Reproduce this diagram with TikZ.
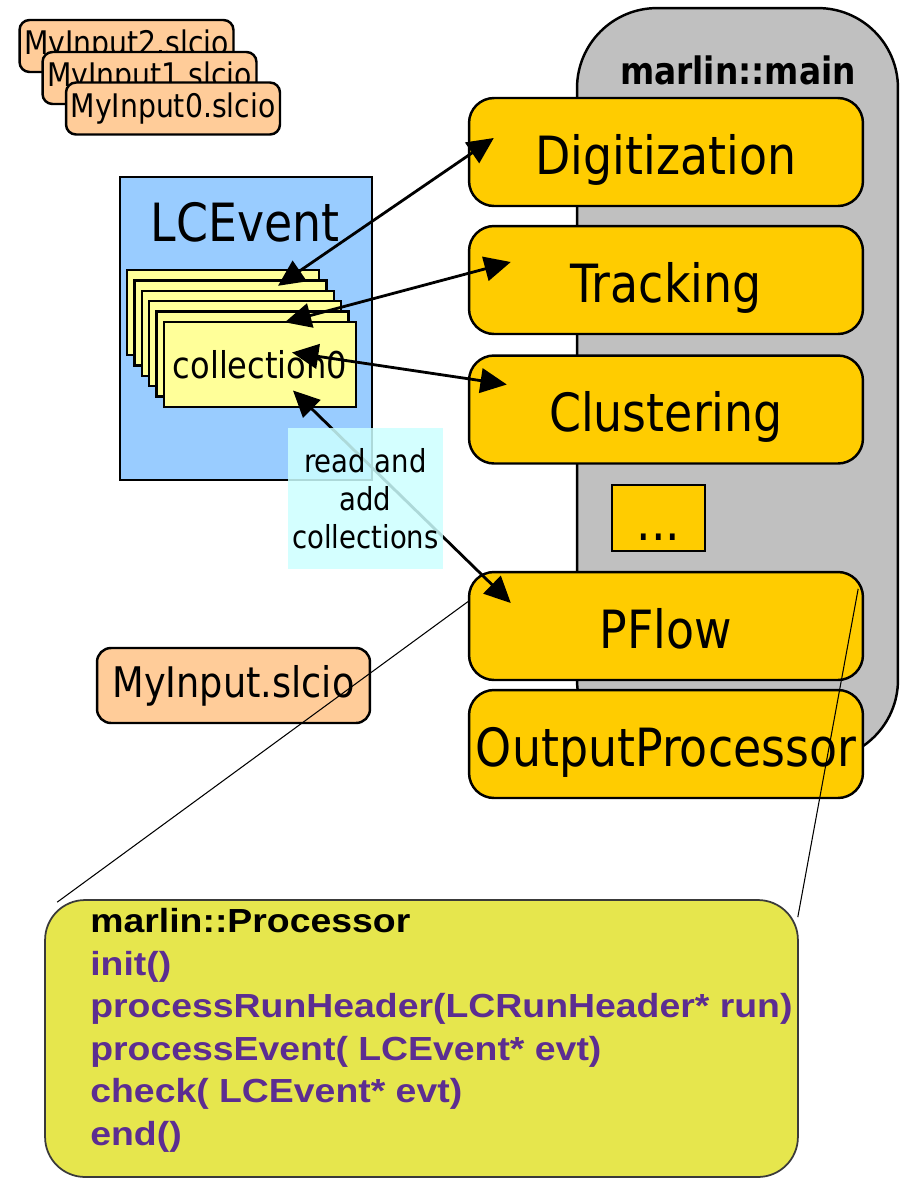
\documentclass[tikz,border=0pt]{standalone}
\usepackage{fontspec}
\setmainfont{DejaVu Sans}[FakeStretch=0.87]
\newfontfamily\panelfamily{Liberation Sans}[FakeStretch=1.12]
\usetikzlibrary{arrows.meta}
\definecolor{procgold}{HTML}{FFCC00}
\definecolor{maingray}{HTML}{C0C0C0}
\definecolor{eventblue}{HTML}{99CCFF}
\definecolor{collyellow}{HTML}{FFFF99}
\definecolor{filebeige}{HTML}{FFCC99}
\definecolor{notecyan}{HTML}{CCFFFF}
\definecolor{panelyellow}{HTML}{E6E64D}
\definecolor{panelgray}{HTML}{3A3A3A}
\definecolor{methpurple}{HTML}{5C2D91}
\newcommand\namefont{\fontsize{30}{36}\selectfont}
\newcommand\tagfont{\fontsize{21.5}{26}\selectfont\bfseries}
\newcommand\collfont{\fontsize{21}{25}\selectfont}
\newcommand\notefont{\fontsize{18}{21.5}\selectfont}
\newcommand\smallfilefont{\fontsize{18.5}{22}\selectfont}
\newcommand\bigfilefont{\fontsize{24}{28}\selectfont}
\newcommand\methfont{\panelfamily\bfseries\fontsize{19}{24.2}\selectfont}

\begin{document}
\begin{tikzpicture}[x=0.02cm, y=-0.02cm,
  proc/.style={draw, fill=procgold, line width=1.4pt, rounded corners=0.5cm,
    minimum width=7.88cm, minimum height=2.16cm, inner sep=0pt, font=\namefont,
    text height=0.96cm, text depth=0.08cm},
  infile/.style={draw, fill=filebeige, line width=1.4pt, rounded corners=0.2cm,
    minimum width=4.28cm, minimum height=1.04cm, inner sep=0pt, font=\smallfilefont},
  coll/.style={draw, fill=collyellow, line width=1.4pt,
    minimum width=3.84cm, minimum height=1.7cm, inner sep=0pt, font=\collfont},
  link/.style={line width=1.6pt,
    {Triangle[length=15pt,width=14pt]}-{Triangle[length=15pt,width=14pt]}},
  zoomline/.style={line width=0.6pt}]
  \useasboundingbox (0,0) rectangle (900,1178);

  \node[draw, fill=maingray, line width=1.4pt, rounded corners=1.6cm,
    minimum width=6.42cm, minimum height=15.04cm] (main) at (737.5,384) {};
  \node[font=\tagfont] (mainlabel) at (738,70) {marlin::main};

  \node[infile] (in2) at (126.5,46) {MyInput2.slcio};
  \node[infile] (in1) at (149.5,78) {MyInput1.slcio};
  \node[infile] (in0) at (173,108.5) {MyInput0.slcio};

  \node[draw, fill=eventblue, line width=1.4pt, minimum width=5.04cm,
    minimum height=6.06cm] (event) at (246,328.5) {};
  \node[font=\namefont] (eventlabel) at (245,222) {LCEvent};
  \foreach \k in {1,...,5}
    \node[coll] (c\k) at ({215.6+7.4*\k},{302.1+10.4*\k}) {};
  \node[coll] (c6) at (260,364.5) {collection0};

  \node[proc] (digi) at (666,152) {Digitization};
  \node[proc] (track) at (666,280) {Tracking};
  \node[proc] (clust) at (666,409.5) {Clustering};
  \node[draw, fill=procgold, line width=1.4pt, minimum width=1.86cm,
    minimum height=1.32cm, inner sep=0pt, font=\namefont,
    text height=1.0cm, text depth=0.12cm] (more) at (658.5,518) {...};
  \node[proc] (pflow) at (666,626) {PFlow};
  \node[proc] (outproc) at (666,744) {OutputProcessor};

  \node[infile, minimum width=5.46cm, minimum height=1.5cm,
    rounded corners=0.28cm, font=\bigfilefont] (input) at (233.5,685.5) {MyInput.slcio};

  \draw[link] ([shift={(55,17)}]c1.north) -- ([shift={(26,-14)}]digi.west);
  \draw[link] ([shift={(47,-11)}]c3.center) -- ([shift={(43,-18)}]track.west);
  \draw[link] ([shift={(32,-12)}]c6.center) -- ([shift={(39,-25)}]clust.west);
  \draw[link] ([shift={(33,26)}]c6.center) -- ([shift={(43,-23)}]pflow.west);

  \node[fill=notecyan, fill opacity=0.85, text opacity=1, minimum width=3.1cm,
    minimum height=2.82cm, align=center, inner sep=0pt, font=\notefont]
    (note) at (365.5,498.5) {read and\\add\\collections};

  \node[draw=panelgray, fill=panelyellow, line width=1pt, rounded corners=0.8cm,
    minimum width=15.06cm, minimum height=5.54cm] (panel) at (421.5,1038.5) {};
  \node[anchor=north west, align=left, inner sep=0pt, font=\methfont,
    text=methpurple] (methods) at (90,908) {\textcolor{black}{marlin::Processor}\\
    init()\\
    processRunHeader(LCRunHeader* run)\\
    processEvent( LCEvent* evt)\\
    check( LCEvent* evt)\\
    end()};

  \draw[zoomline] ([shift={(1,-25)}]pflow.west) -- ([shift={(13,3)}]panel.north west);
  \draw[zoomline] ([shift={(-6,18)}]pflow.north east) -- ([shift={(-1,18)}]panel.north east);
\end{tikzpicture}
\end{document}
